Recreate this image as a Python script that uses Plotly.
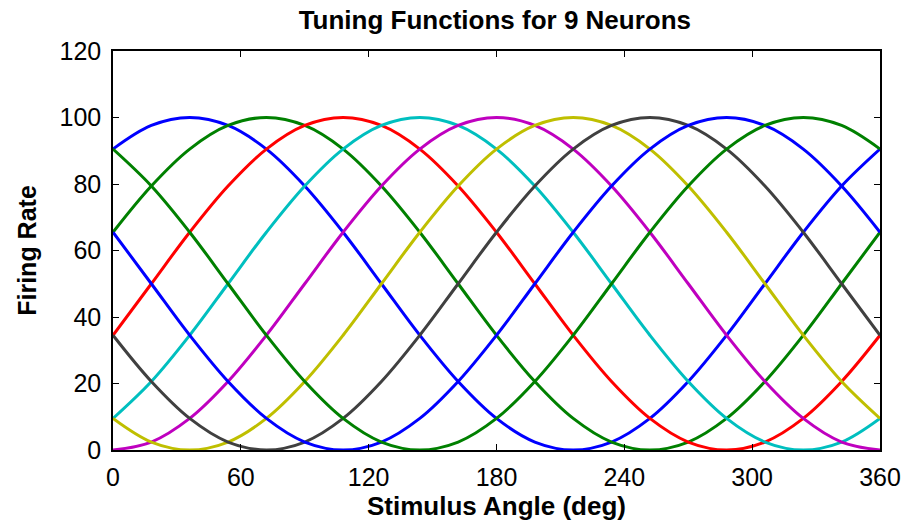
import plotly.graph_objects as go

angles = [0, 18, 36, 54, 72, 90, 108, 126, 144, 162, 180, 198, 216, 234, 252, 270, 288, 306, 324, 342, 360]

n1 = [90.5, 97.6, 100, 97.6, 90.5, 79.4, 65.5, 50, 34.5, 20.6, 9.5, 2.4, 0, 2.4, 9.5, 20.6, 34.5, 50, 65.5, 79.4, 90.5]
n2 = [65.5, 79.4, 90.5, 97.6, 100, 97.6, 90.5, 79.4, 65.5, 50, 34.5, 20.6, 9.5, 2.4, 0, 2.4, 9.5, 20.6, 34.5, 50, 65.5]
n3 = [34.5, 50, 65.5, 79.4, 90.5, 97.6, 100, 97.6, 90.5, 79.4, 65.5, 50, 34.5, 20.6, 9.5, 2.4, 0, 2.4, 9.5, 20.6, 34.5]
n4 = [9.5, 20.6, 34.5, 50, 65.5, 79.4, 90.5, 97.6, 100, 97.6, 90.5, 79.4, 65.5, 50, 34.5, 20.6, 9.5, 2.4, 0, 2.4, 9.5]
n5 = [0, 2.4, 9.5, 20.6, 34.5, 50, 65.5, 79.4, 90.5, 97.6, 100, 97.6, 90.5, 79.4, 65.5, 50, 34.5, 20.6, 9.5, 2.4, 0]
n6 = [9.5, 2.4, 0, 2.4, 9.5, 20.6, 34.5, 50, 65.5, 79.4, 90.5, 97.6, 100, 97.6, 90.5, 79.4, 65.5, 50, 34.5, 20.6, 9.5]
n7 = [34.5, 20.6, 9.5, 2.4, 0, 2.4, 9.5, 20.6, 34.5, 50, 65.5, 79.4, 90.5, 97.6, 100, 97.6, 90.5, 79.4, 65.5, 50, 34.5]
n8 = [65.5, 50, 34.5, 20.6, 9.5, 2.4, 0, 2.4, 9.5, 20.6, 34.5, 50, 65.5, 79.4, 90.5, 97.6, 100, 97.6, 90.5, 79.4, 65.5]
n9 = [90.5, 79.4, 65.5, 50, 34.5, 20.6, 9.5, 2.4, 0, 2.4, 9.5, 20.6, 34.5, 50, 65.5, 79.4, 90.5, 97.6, 100, 97.6, 90.5]

series = [n1, n2, n3, n4, n5, n6, n7, n8, n9]
colors = ["#0000ff", "#008000", "#ff0000", "#00bfbf", "#bf00bf", "#bfbf00", "#404040", "#0000ff", "#008000"]

x_ticks = [0, 60, 120, 180, 240, 300, 360]
y_ticks = [0, 20, 40, 60, 80, 100, 120]

FONT = "Liberation Sans, Arial, sans-serif"

fig = go.Figure()
for vals, col in zip(series, colors):
    fig.add_trace(go.Scatter(x=angles, y=vals, mode="lines",
                             line=dict(color=col, width=3, shape="spline"),
                             showlegend=False, hoverinfo="skip"))

axis_common = dict(showgrid=False, zeroline=False, showline=True, linecolor="black",
                   linewidth=1.5, mirror="ticks", ticks="inside", ticklen=6,
                   tickcolor="black", tickwidth=1.2,
                   tickfont=dict(family=FONT, size=25, color="black"))

fig.update_layout(
    width=913, height=525,
    margin=dict(l=113, r=33, t=51, b=73),
    paper_bgcolor="white", plot_bgcolor="white",
    title=dict(text="<b>Tuning Functions for 9 Neurons</b>", x=0.542, xanchor="center",
               y=0.962, yanchor="middle",
               font=dict(family=FONT, size=26, color="black")),
    xaxis=dict(range=[0, 360], tickvals=x_ticks, ticktext=[str(v) for v in x_ticks],
               ticklabelstandoff=4,
               title=dict(text="<b>Stimulus Angle (deg)</b>", standoff=4,
                          font=dict(family=FONT, size=26, color="black")),
               **axis_common),
    yaxis=dict(range=[0, 120], tickvals=y_ticks, ticktext=[str(v) for v in y_ticks],
               ticklabelstandoff=5,
               title=dict(text="<b>Firing Rate</b>", standoff=16,
                          font=dict(family=FONT, size=25, color="black")),
               **axis_common),
)

fig.write_html("out.html")
